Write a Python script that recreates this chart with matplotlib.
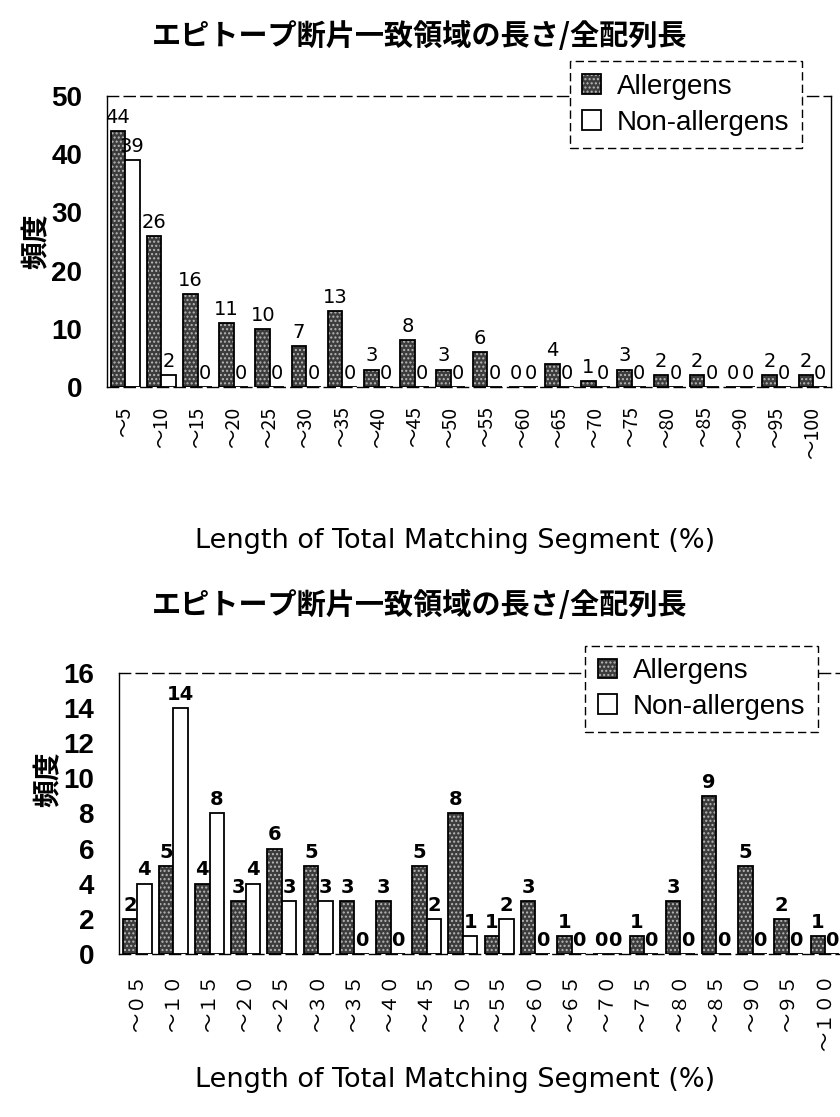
import matplotlib
matplotlib.use("Agg")
import matplotlib.pyplot as plt
import numpy as np

plt.rcParams['font.family'] = ['Noto Sans CJK JP', 'DejaVu Sans']

title = "エピトープ断片一致領域の長さ/全配列長"
xlabel = "Length of Total Matching Segment (%)"
ylabel = "頻度"
series_names = ["Allergens", "Non-allergens"]

top_labels = ["～5", "～10", "～15", "～20", "～25", "～30", "～35", "～40", "～45", "～50",
              "～55", "～60", "～65", "～70", "～75", "～80", "～85", "～90", "～95", "～100"]
top_allergens = [44, 26, 16, 11, 10, 7, 13, 3, 8, 3, 6, 0, 4, 1, 3, 2, 2, 0, 2, 2]
top_non_allergens = [39, 2, 0, 0, 0, 0, 0, 0, 0, 0, 0, 0, 0, 0, 0, 0, 0, 0, 0, 0]

bottom_labels = ["～０５", "～１０", "～１５", "～２０", "～２５", "～３０", "～３５", "～４０", "～４５", "～５０",
                 "～５５", "～６０", "～６５", "～７０", "～７５", "～８０", "～８５", "～９０", "～９５", "～１００"]
bottom_allergens = [2, 5, 4, 3, 6, 5, 3, 3, 5, 8, 1, 3, 1, 0, 1, 3, 9, 5, 2, 1]
bottom_non_allergens = [4, 14, 8, 4, 3, 3, 0, 0, 2, 1, 2, 0, 0, 0, 0, 0, 0, 0, 0, 0]


def draw_panel(fig, rect, labels, allergens, non_allergens, ymax, yticks,
               title_y, xlabel_y, legend_box, label_weight, ylabel_y):
    ax = fig.add_axes(rect)
    x = np.arange(len(labels))
    w = 0.4
    b1 = ax.bar(x - w / 2, allergens, w, color="#3c3c3c", edgecolor="black",
                linewidth=1.3, hatch="....", label=series_names[0], zorder=2)
    for p in b1:
        p._hatch_color = (0.72, 0.72, 0.72, 1.0)
    b2 = ax.bar(x + w / 2, non_allergens, w, color="white", edgecolor="black",
                linewidth=1.3, label=series_names[1], zorder=2)
    for bars, vals in ((b1, allergens), (b2, non_allergens)):
        for p, v in zip(bars, vals):
            ax.annotate(str(v), (p.get_x() + p.get_width() / 2, v),
                        xytext=(0, 3), textcoords="offset points",
                        ha="center", va="bottom", fontsize=14,
                        fontweight=label_weight, family=["DejaVu Sans"])
    ax.set_xlim(-0.5, len(labels) - 0.5)
    ax.set_ylim(0, ymax)
    ax.set_yticks(yticks)
    ax.set_yticklabels([str(t) for t in yticks], fontsize=20, fontweight="bold",
                       family=["Liberation Sans"])
    ax.set_xticks(x)
    ax.set_xticklabels(labels, rotation=90, fontsize=14)
    ax.tick_params(axis="y", length=0, pad=18)
    ax.tick_params(axis="x", length=0, pad=14)
    ax.spines["top"].set_linestyle((0, (8, 4)))
    ax.spines["bottom"].set_linestyle((0, (8, 4)))
    for s in ax.spines.values():
        s.set_linewidth(1.0)
    ax.set_ylabel(ylabel, fontsize=20, fontweight="bold")
    ax.yaxis.set_label_coords(-0.078, ylabel_y)
    fig.text(0.5, title_y, title, ha="center", va="center", fontsize=21,
             fontweight="bold")
    fig.text(0.542, xlabel_y, xlabel, ha="center", va="center", fontsize=19.5,
             family=["DejaVu Sans"])
    leg = fig.legend(handles=[b1, b2], loc="upper left",
                     bbox_to_anchor=legend_box, bbox_transform=fig.transFigure,
                     fancybox=False, edgecolor="black", framealpha=1,
                     handlelength=0.7, handleheight=0.7, handletextpad=0.55,
                     borderpad=0.45, labelspacing=0.35, borderaxespad=0,
                     prop={"family": ["Liberation Sans"], "size": 20})
    leg.get_frame().set_linestyle((0, (6, 3)))
    leg.get_frame().set_linewidth(1.0)
    return ax


fig = plt.figure(figsize=(8.4, 11.17), dpi=100)

draw_panel(fig, [0.1274, 0.6535, 0.862, 0.2605], top_labels, top_allergens,
           top_non_allergens, 50, [0, 10, 20, 30, 40, 50],
           title_y=0.968, xlabel_y=0.516, legend_box=(0.678, 0.945),
           label_weight="normal", ylabel_y=0.5)

draw_panel(fig, [0.1417, 0.146, 0.862, 0.2516], bottom_labels, bottom_allergens,
           bottom_non_allergens, 16, [0, 2, 4, 6, 8, 10, 12, 14, 16],
           title_y=0.458, xlabel_y=0.033, legend_box=(0.697, 0.422),
           label_weight="bold", ylabel_y=0.62)

fig.savefig("out.png", dpi=100)
